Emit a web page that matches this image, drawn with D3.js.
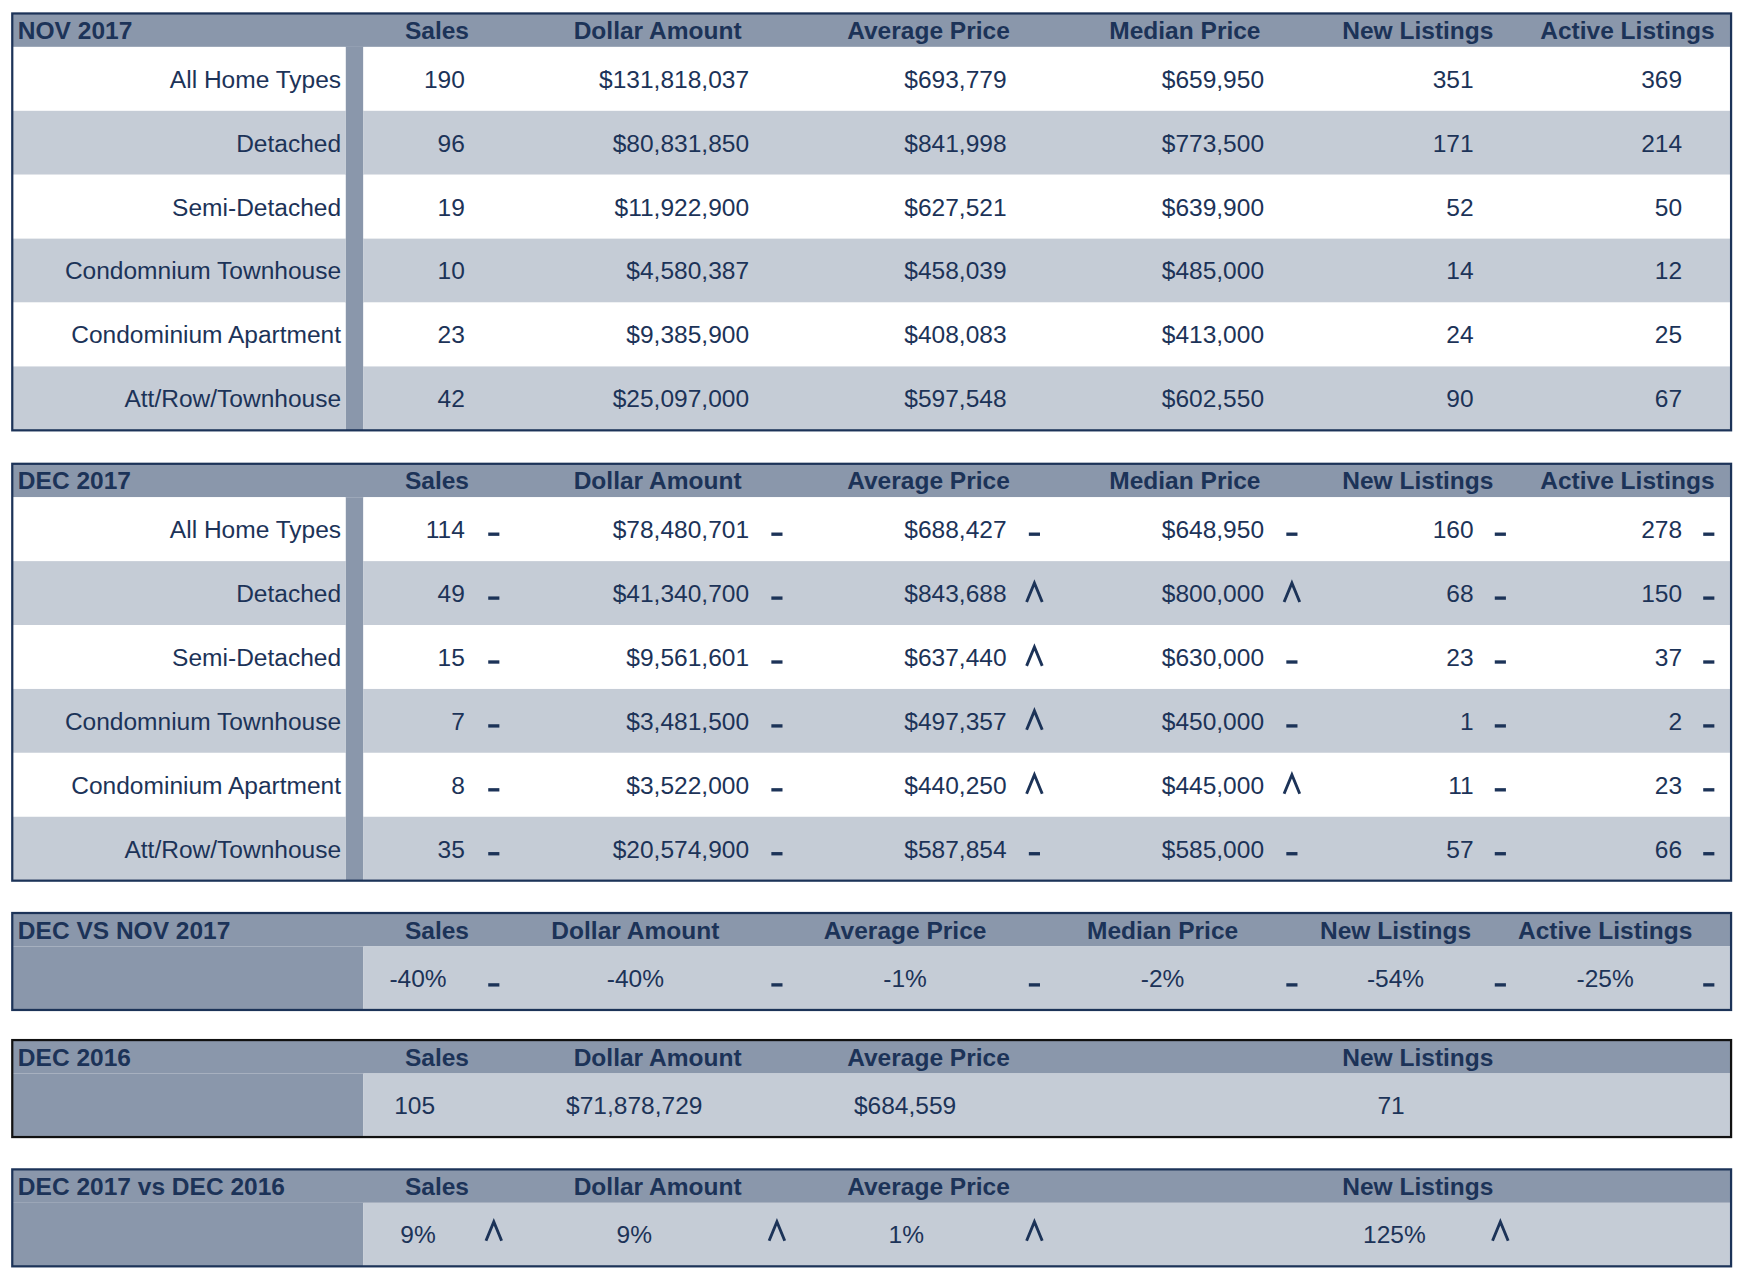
<!DOCTYPE html>
<html><head><meta charset="utf-8">
<script src="https://cdn.jsdelivr.net/npm/d3@7"></script>
<style>body{margin:0;background:#fff}text{font-family:"Liberation Sans",Arial,sans-serif}</style>
</head><body><div id="chart"></div>
<script>
// Data
const rowLabels = ["All Home Types", "Detached", "Semi-Detached", "Condomnium Townhouse", "Condominium Apartment", "Att/Row/Townhouse"];
const columns = ["Sales", "Dollar Amount", "Average Price", "Median Price", "New Listings", "Active Listings"];
const nov2017 = [
  ["190", "$131,818,037", "$693,779", "$659,950", "351", "369"],
  ["96", "$80,831,850", "$841,998", "$773,500", "171", "214"],
  ["19", "$11,922,900", "$627,521", "$639,900", "52", "50"],
  ["10", "$4,580,387", "$458,039", "$485,000", "14", "12"],
  ["23", "$9,385,900", "$408,083", "$413,000", "24", "25"],
  ["42", "$25,097,000", "$597,548", "$602,550", "90", "67"]
];
const dec2017 = [
  ["114", "$78,480,701", "$688,427", "$648,950", "160", "278"],
  ["49", "$41,340,700", "$843,688", "$800,000", "68", "150"],
  ["15", "$9,561,601", "$637,440", "$630,000", "23", "37"],
  ["7", "$3,481,500", "$497,357", "$450,000", "1", "2"],
  ["8", "$3,522,000", "$440,250", "$445,000", "11", "23"],
  ["35", "$20,574,900", "$587,854", "$585,000", "57", "66"]
];
// "up" = caret, "flat" = dash
const dec2017Trend = [
  ["flat", "flat", "flat", "flat", "flat", "flat"],
  ["flat", "flat", "up", "up", "flat", "flat"],
  ["flat", "flat", "up", "flat", "flat", "flat"],
  ["flat", "flat", "up", "flat", "flat", "flat"],
  ["flat", "flat", "up", "up", "flat", "flat"],
  ["flat", "flat", "flat", "flat", "flat", "flat"]
];
const decVsNov = ["-40%", "-40%", "-1%", "-2%", "-54%", "-25%"];
const decVsNovTrend = ["flat", "flat", "flat", "flat", "flat", "flat"];
const dec2016Cols = ["Sales", "Dollar Amount", "Average Price", "New Listings"];
const dec2016 = ["105", "$71,878,729", "$684,559", "71"];
const yoy = ["9%", "9%", "1%", "125%"];
const yoyTrend = ["up", "up", "up", "up"];

const W = 1561, H = 1141;
const navy = "#1c3358", hdr = "#8a97ab", alt = "#c5ccd6";
const svg = d3.select("#chart").append("svg")
  .attr("width", 1740).attr("height", 1272)
  .attr("viewBox", `0 0 ${W} ${H}`);

const x0 = 11, x1 = 1553, labelEnd = 310, dataStart = 326;
const headX = {"Sales": 392, "Dollar Amount": 590, "Average Price": 833, "Median Price": 1063, "New Listings": 1272, "Active Listings": 1460};
const valRight = {"Sales": 417, "Dollar Amount": 672, "Average Price": 903, "Median Price": 1134, "New Listings": 1322, "Active Listings": 1509};
const markX = {"Sales": 443, "Dollar Amount": 697, "Average Price": 928, "Median Price": 1159, "New Listings": 1346, "Active Listings": 1533};

function marker(g, kind, x, y) {
  if (kind === "up") {
    g.append("path").attr("d", `M${x - 7},${y + 8} L${x},${y - 9} L${x + 7},${y + 8}`)
      .attr("fill", "none").attr("stroke", navy).attr("stroke-width", 2.6);
  } else {
    g.append("rect").attr("x", x - 5).attr("y", y + 3).attr("width", 10).attr("height", 3).attr("fill", navy);
  }
}

function header(g, top, title, cols, pos) {
  g.append("rect").attr("x", x0).attr("y", top).attr("width", x1 - x0).attr("height", 30).attr("fill", hdr);
  g.append("text").attr("x", 16).attr("y", top + 23).attr("font-size", 22).attr("font-weight", "bold")
    .attr("fill", navy).text(title);
  cols.forEach(c => g.append("text").attr("x", pos[c]).attr("y", top + 23).attr("text-anchor", "middle")
    .attr("font-size", 22).attr("font-weight", "bold").attr("fill", navy).text(c));
}

function bigTable(top, title, data, trend) {
  const g = svg.append("g");
  const y = d3.scaleBand().domain(rowLabels).range([top + 30, top + 374]);
  header(g, top, title, columns, headX);
  g.append("rect").attr("x", labelEnd).attr("y", top + 30).attr("width", dataStart - labelEnd).attr("height", 344).attr("fill", hdr);
  rowLabels.forEach((r, i) => {
    const fill = i % 2 ? alt : "#fff";
    g.append("rect").attr("x", x0).attr("y", y(r)).attr("width", labelEnd - x0).attr("height", y.bandwidth()).attr("fill", fill);
    g.append("rect").attr("x", dataStart).attr("y", y(r)).attr("width", x1 - dataStart).attr("height", y.bandwidth()).attr("fill", fill);
    const cy = y(r) + y.bandwidth() / 2;
    g.append("text").attr("x", 306).attr("y", cy + 8).attr("text-anchor", "end").attr("font-size", 22).attr("fill", navy).text(r);
    columns.forEach((c, j) => {
      g.append("text").attr("x", valRight[c]).attr("y", cy + 8).attr("text-anchor", "end").attr("font-size", 22).attr("fill", navy).text(data[i][j]);
      if (trend) marker(g, trend[i][j], markX[c], cy);
    });
  });
  g.append("rect").attr("x", x0).attr("y", top).attr("width", x1 - x0).attr("height", 374).attr("fill", "none").attr("stroke", navy).attr("stroke-width", 2);
}

bigTable(12, "NOV 2017", nov2017, null);
bigTable(416, "DEC 2017", dec2017, dec2017Trend);

function smallTable(top, title, cols, pos, vals, valX, trend, border) {
  const g = svg.append("g");
  header(g, top, title, cols, pos);
  g.append("rect").attr("x", x0).attr("y", top + 30).attr("width", dataStart - x0).attr("height", 57).attr("fill", hdr);
  g.append("rect").attr("x", dataStart).attr("y", top + 30).attr("width", x1 - dataStart).attr("height", 57).attr("fill", alt);
  const cy = top + 30 + 28;
  cols.forEach((c, j) => {
    g.append("text").attr("x", valX[j]).attr("y", cy + 8).attr("text-anchor", "middle").attr("font-size", 22).attr("fill", navy).text(vals[j]);
    if (trend) marker(g, trend[j], markX[c], trend[j] === "up" ? cy - 2 : cy + 2);
  });
  g.append("rect").attr("x", x0).attr("y", top).attr("width", x1 - x0).attr("height", 87).attr("fill", "none").attr("stroke", border).attr("stroke-width", 2);
}

smallTable(819, "DEC VS NOV 2017", columns,
  {"Sales": 392, "Dollar Amount": 570, "Average Price": 812, "Median Price": 1043, "New Listings": 1252, "Active Listings": 1440},
  decVsNov, [375, 570, 812, 1043, 1252, 1440], decVsNovTrend, navy);
smallTable(933, "DEC 2016", dec2016Cols, headX, dec2016, [372, 569, 812, 1248], null, "#111");
smallTable(1049, "DEC 2017 vs DEC 2016", dec2016Cols, headX, yoy, [375, 569, 813, 1251], yoyTrend, navy);
</script></body></html>
